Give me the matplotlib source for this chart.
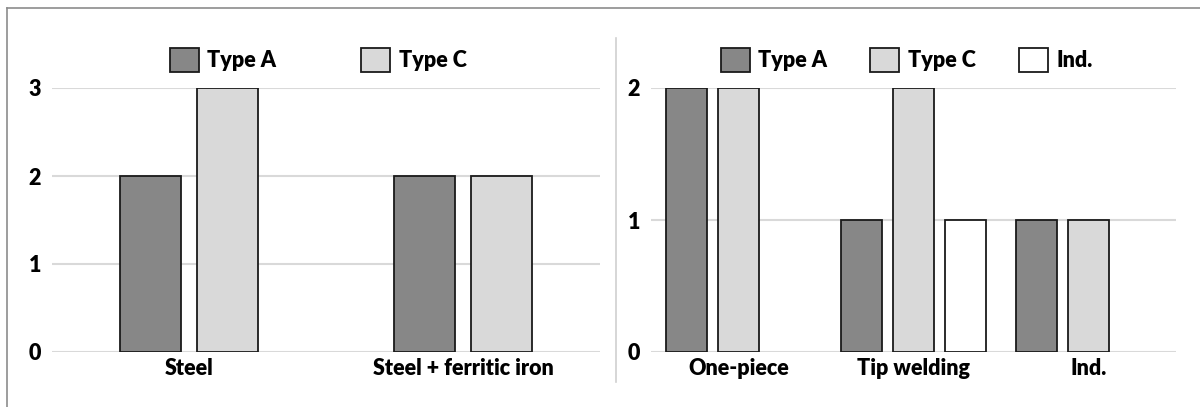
import numpy as np
import matplotlib.pyplot as plt
from matplotlib.lines import Line2D
from matplotlib.patches import Patch

# left panel data
left_cats = ["Steel", "Steel + ferritic iron"]
left_type_a = [2, 2]
left_type_c = [3, 2]

# right panel data
right_cats = ["One-piece", "Tip welding", "Ind."]
right_type_a = [2, 1, 1]
right_type_c = [2, 2, 1]
right_ind = [0, 1, 0]

series_colors = {"Type A": "#878787", "Type C": "#d9d9d9", "Ind.": "#ffffff"}
edge = "#1a1a1a"
grid_col = "#d9d9d9"

plt.rcParams['font.family'] = ['Lato', 'DejaVu Sans']
WEIGHT = 'heavy'
FS = 15.5

fig = plt.figure(figsize=(12, 4.07), dpi=100)
W, H = 1200, 407


def px_axes(x0, x1, ytop, ybot):
    return fig.add_axes([x0 / W, 1 - ybot / H, (x1 - x0) / W, (ybot - ytop) / H])


def style(ax, ymax):
    ax.set_ylim(0, ymax)
    ax.set_yticks(range(ymax + 1))
    ax.yaxis.grid(True, color=grid_col, linewidth=1.5)
    ax.set_axisbelow(True)
    for s in ax.spines.values():
        s.set_visible(False)
    ax.tick_params(axis='both', length=0, labelsize=FS)
    ax.tick_params(axis='y', pad=8)
    ax.tick_params(axis='x', pad=4)
    for lab in ax.get_xticklabels() + ax.get_yticklabels():
        lab.set_fontweight(WEIGHT)


def make_legend(ax, names, x_anchor, colspace):
    handles = [Patch(facecolor=series_colors[n], edgecolor=edge, linewidth=1.3) for n in names]
    leg = ax.legend(handles, names, loc='center', bbox_to_anchor=(x_anchor, 1.105), ncol=len(names),
                    frameon=False, prop={'size': FS, 'weight': WEIGHT},
                    handlelength=1.35, handleheight=1.35, handletextpad=0.4,
                    columnspacing=colspace, borderpad=0)
    return leg


# left
axl = px_axes(52, 600, 88, 352)
x = np.arange(len(left_cats))
w = 0.223
off = 0.142
axl.bar(x - off, left_type_a, w, color=series_colors["Type A"], edgecolor=edge, linewidth=1.3)
axl.bar(x + off, left_type_c, w, color=series_colors["Type C"], edgecolor=edge, linewidth=1.3)
axl.set_xlim(-0.5, len(left_cats) - 0.5)
axl.set_xticks(x)
axl.set_xticklabels(left_cats)
style(axl, 3)
make_legend(axl, ["Type A", "Type C"], 0.486, 3.95)

# right
axr = px_axes(651, 1176, 88, 352)
x = np.arange(len(right_cats))
w = 0.234
off = 0.297
axr.bar(x - off, right_type_a, w, color=series_colors["Type A"], edgecolor=edge, linewidth=1.3)
axr.bar(x, right_type_c, w, color=series_colors["Type C"], edgecolor=edge, linewidth=1.3)
bars = axr.bar(x + off, right_ind, w, color=series_colors["Ind."], edgecolor=edge, linewidth=1.3)
for b, v in zip(bars, right_ind):
    if v == 0:
        b.set_visible(False)
axr.set_xlim(-0.5, len(right_cats) - 0.5)
axr.set_xticks(x)
axr.set_xticklabels(right_cats)
style(axr, 2)
make_legend(axr, ["Type A", "Type C", "Ind."], 0.487, 2.0)

# frame and separator
fig.add_artist(Line2D([7 / W, 7 / W], [0, 1 - 8 / H], color="#8c8c8c", linewidth=1.2))
fig.add_artist(Line2D([7 / W, 1], [1 - 8 / H, 1 - 8 / H], color="#8c8c8c", linewidth=1.2))
fig.add_artist(Line2D([616 / W, 616 / W], [1 - 38 / H, 1 - 382 / H], color="#d0d0d0", linewidth=1.2))

fig.savefig("out.png", dpi=100)
